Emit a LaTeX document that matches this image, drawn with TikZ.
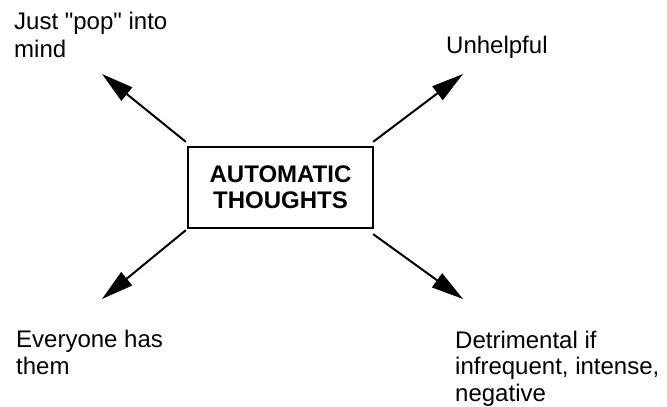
\documentclass[tikz,border=0pt]{standalone}
\usepackage{fontspec}
\setmainfont{Liberation Sans}[Ligatures=TeXOff]
\usetikzlibrary{arrows.meta}
\begin{document}
\begin{tikzpicture}[x=1pt,y=-1pt,
  arr/.style={line width=2pt,-{Triangle[length=32pt,width=17pt]}},
  lbl/.style={anchor=base west,inner sep=0pt,align=left,font=\fontsize{24}{27.5}\selectfont},
  boxstyle/.style={draw,line width=2.2pt,minimum width=185pt,minimum height=81pt,inner sep=0pt,align=center,font=\fontsize{24}{26}\selectfont\bfseries}]
\useasboundingbox (0,0) rectangle (667,407);
\node[boxstyle] (box) at (280.5,187.5) {AUTOMATIC\\THOUGHTS};
\node[lbl] (t1) at (14,57) {Just "pop" into\\mind};
\node[lbl] (t2) at (446,53) {Unhelpful};
\node[lbl,font=\fontsize{24}{27}\selectfont] (t3) at (16,374) {Everyone has\\them};
\node[lbl,font=\fontsize{24}{26.5}\selectfont] (t4) at (455,401) {Detrimental if\\infrequent, intense,\\negative};
\coordinate (tl) at (102,74);
\coordinate (tr) at (463,74);
\coordinate (bl) at (102,299);
\coordinate (br) at (463,299);
\draw[arr] ([shift={(-1,-4)}]box.north west) -- (tl);
\draw[arr] ([shift={(-1,-4)}]box.north east) -- (tr);
\draw[arr] ([shift={(-1,1)}]box.south west) -- (bl);
\draw[arr] ([shift={(-1,5)}]box.south east) -- (br);
\end{tikzpicture}
\end{document}
